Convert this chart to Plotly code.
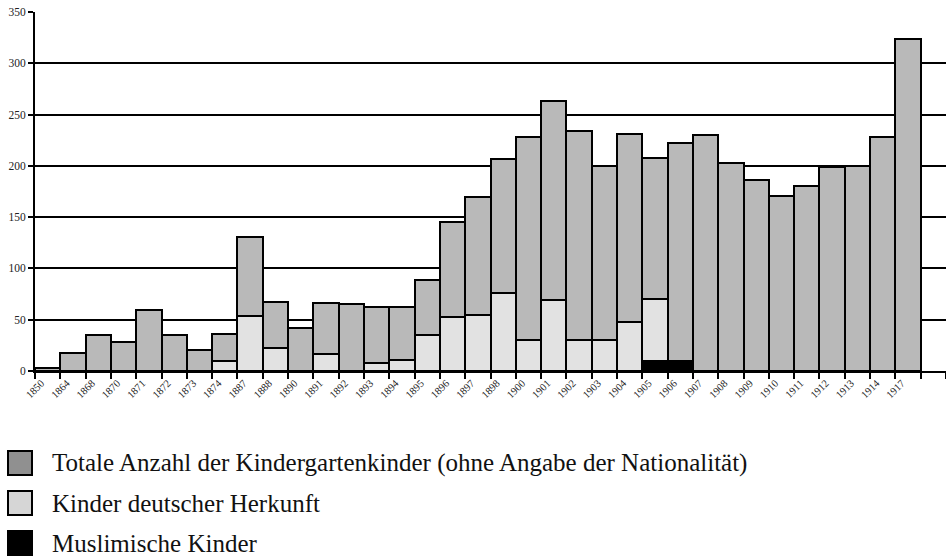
import plotly.graph_objects as go

years = [1850, 1864, 1868, 1870, 1871, 1872, 1873, 1874, 1887, 1888, 1890, 1891,
         1892, 1893, 1894, 1895, 1896, 1897, 1898, 1900, 1901, 1902, 1903, 1904,
         1905, 1906, 1907, 1908, 1909, 1910, 1911, 1912, 1913, 1914, 1917]
total = [3, 18, 35, 28, 59, 35, 20, 36, 131, 67, 42, 66,
         65, 62, 62, 89, 145, 170, 207, 228, 263, 234, 200, 231,
         208, 222, 230, 203, 186, 171, 180, 199, 200, 228, 324]
german = [None, None, None, None, None, None, None, 10, 54, 22, None, 17,
          None, 8, 11, 35, 53, 55, 76, 30, 69, 30, 30, 48,
          70, None, None, None, None, None, None, None, None, None, None]
muslim = [None] * 24 + [10, 10] + [None] * 9

names = ["Totale Anzahl der Kindergartenkinder (ohne Angabe der Nationalität)",
         "Kinder deutscher Herkunft",
         "Muslimische Kinder"]
bar_colors = ["#b9b9b9", "#e2e2e2", "#000000"]
legend_colors = ["#909090", "#d6d6d6", "#000000"]

x = list(range(len(years)))

fig = go.Figure()
for vals, name, col in zip([total, german, muslim], names, bar_colors):
    fig.add_bar(x=x, y=vals, name=name, width=1, showlegend=False,
                marker=dict(color=col, line=dict(color="#000000", width=2)))

W, H = 946, 556
L, R, T = 35, 0, 12
B = H - 371
pw, ph = W - L - R, H - T - B

def px(xp):
    return (xp - L) / pw

def py(yp):
    return (H - B - yp) / ph

shapes = []
annotations = []
row_centers = [463, 503, 543]
for i, (name, col) in enumerate(zip(names, legend_colors)):
    yc = row_centers[i]
    shapes.append(dict(type="rect", xref="paper", yref="paper",
                       x0=px(8), x1=px(32), y0=py(yc - 12), y1=py(yc + 12),
                       fillcolor=col, line=dict(color="#000000", width=2)))
    annotations.append(dict(xref="paper", yref="paper", x=px(50), y=py(yc),
                            xanchor="left", yanchor="middle", showarrow=False,
                            text=name, font=dict(size=25, color="#111111",
                                                 family="Liberation Serif")))

fig.update_layout(
    template="none",
    barmode="overlay", bargap=0,
    width=W, height=H,
    margin=dict(l=L, r=R, t=T, b=B, autoexpand=False),
    plot_bgcolor="white", paper_bgcolor="white",
    font=dict(family="Liberation Serif", color="#222222"),
    shapes=shapes, annotations=annotations, showlegend=False,
)
fig.update_xaxes(
    automargin=False, ticklabeloverflow="allow",
    range=[-0.5, 35.5], tickmode="array",
    tickvals=[i - 0.25 for i in x], ticktext=[str(y) for y in years],
    tickangle=-45, ticks="", showgrid=False, zeroline=False,
    showline=True, linecolor="#000000", linewidth=2,
    tickfont=dict(size=10.5),
    minor=dict(ticks="outside", tickmode="linear", tick0=-0.5, dtick=1,
               ticklen=6, tickwidth=2, tickcolor="#000000", showgrid=False),
)
fig.update_yaxes(
    automargin=False, ticklabeloverflow="allow",
    range=[0, 350], tickmode="array", tickvals=list(range(0, 351, 50)),
    showgrid=True, gridcolor="#000000", gridwidth=2, zeroline=False,
    showline=True, linecolor="#000000", linewidth=2,
    ticks="outside", ticklen=5, tickwidth=2, tickcolor="#000000",
    tickfont=dict(size=11.5),
)

fig.write_html("out.html", config={"displayModeBar": False},
               post_script="document.body.style.margin='0';")
